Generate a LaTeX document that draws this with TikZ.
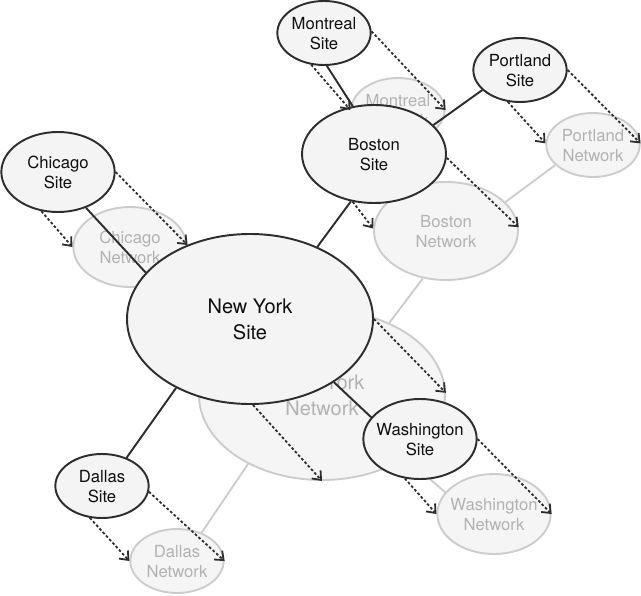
\documentclass[tikz,border=0pt]{standalone}
\usepackage{fontspec}
\setmainfont{TeX Gyre Heros}
\usetikzlibrary{arrows.meta,shapes.geometric}
\definecolor{stedge}{RGB}{45,45,45}
\definecolor{stfill}{RGB}{244,244,244}
\definecolor{sttext}{RGB}{15,15,15}
\definecolor{nwedge}{RGB}{204,204,204}
\definecolor{nwfill}{RGB}{245,245,245}
\definecolor{nwtext}{RGB}{178,178,178}
\tikzset{
  stnode/.style={ellipse, draw=stedge, fill=stfill, line width=1.45pt,
    inner xsep=-12pt, inner ysep=-6pt, align=center, text=sttext,
    font=\fontsize{12.5}{15}\selectfont},
  nwnode/.style={stnode, draw=nwedge, fill=nwfill, text=nwtext, line width=1.4pt},
  stlink/.style={draw=stedge, line width=1.45pt},
  nwlink/.style={draw=nwedge, line width=1.4pt},
  maparrow/.style={-{Straight Barb[length=5.5pt,width=9pt]}, line width=1.35pt,
    draw=stedge, dash pattern=on 2pt off 1.6pt},
  small/.style={minimum width=70pt, minimum height=48pt, text depth=0pt},
  medium/.style={minimum width=85pt, minimum height=60pt, text depth=0pt},
  large/.style={minimum width=108pt, minimum height=73.5pt, text depth=0pt},
  huge/.style={minimum width=184.5pt, minimum height=127.5pt,
    font=\fontsize{15}{19.5}\selectfont}
}

\begin{document}
\begin{tikzpicture}[x=0.75pt,y=-0.75pt]
  \useasboundingbox (0,0) rectangle (641,595);
  \node[nwnode, huge] (nNY) at (322,395) {New York\\Network};
  \node[nwnode, large] (nBos) at (446,231) {Boston\\Network};
  \node[nwnode, small] (nMtl) at (398,110) {Montreal\\Network};
  \node[nwnode, small] (nPdx) at (593,145) {Portland\\Network};
  \node[nwnode, medium] (nChi) at (130,247) {Chicago\\Network};
  \node[nwnode, medium] (nWas) at (494,514) {Washington\\Network};
  \node[nwnode, small] (nDal) at (177,561) {Dallas\\Network};
  \draw[nwlink] (nBos.244) -- (nNY.47);
  \draw[nwlink] (nBos.26) -- (nPdx.208);
  \draw[nwlink] (nNY.223) -- (nDal.49);
  \draw[nwlink] (nNY.323) -- (nWas.156);
  \node[stnode, huge] (sNY) at (250,319) {New York\\Site};
  \node[stnode, large] (sBos) at (374,154) {Boston\\Site};
  \node[stnode, small] (sMtl) at (324,33) {Montreal\\Site};
  \node[stnode, small] (sPdx) at (520,70) {Portland\\Site};
  \node[stnode, medium] (sChi) at (58,172) {Chicago\\Site};
  \node[stnode, medium] (sWas) at (420,439) {Washington\\Site};
  \node[stnode, small] (sDal) at (102,486) {Dallas\\Site};
  \draw[stlink] (sChi.308) -- (sNY.156);
  \draw[stlink] (sBos.244) -- (sNY.47);
  \draw[stlink] (sMtl.275) -- (sBos.114);
  \draw[stlink] (sBos.26) -- (sPdx.208);
  \draw[stlink] (sNY.223) -- (sDal.49);
  \draw[stlink] (sNY.323) -- (sWas.156);
  \draw[maparrow] (sMtl.248) -- (nMtl.180);
  \draw[maparrow] (sMtl.2) -- (nMtl.0);
  \draw[maparrow] (sPdx.249) -- (nPdx.178);
  \draw[maparrow] (sPdx.0) -- (nPdx.2);
  \draw[maparrow] (sChi.247) -- (nChi.180);
  \draw[maparrow] (sChi.0) -- (nChi.2);
  \draw[maparrow] (sDal.249) -- (nDal.180);
  \draw[maparrow] (sDal.353) -- (nDal.0);
  \draw[maparrow] (sWas.249) -- (nWas.180);
  \draw[maparrow] (sWas.0) -- (nWas.0);
  \draw[maparrow] (sBos.246) -- (nBos.178);
  \draw[maparrow] (sBos.357) -- (nBos.3);
  \draw[maparrow] (sNY.272) -- (nNY.270);
  \draw[maparrow] (sNY.0) -- (nNY.1);
\end{tikzpicture}
\end{document}
